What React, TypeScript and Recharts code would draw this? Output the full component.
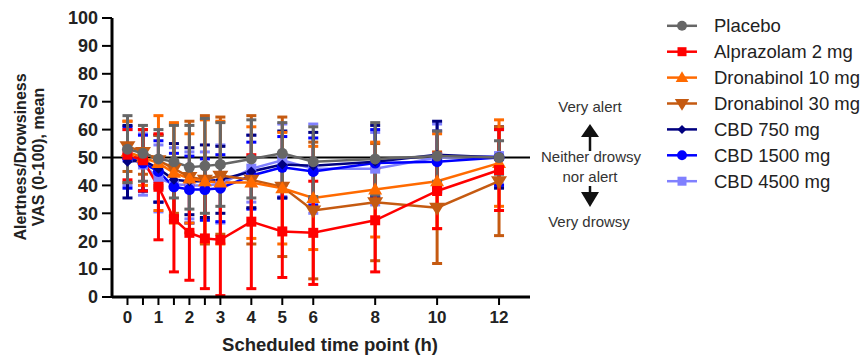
import React from 'react';
import { ComposedChart, Line, XAxis, YAxis, ReferenceLine, ErrorBar } from 'recharts';

const times = [0, 0.5, 1, 1.5, 2, 2.5, 3, 4, 5, 6, 8, 10, 12];
const yTicks = [0, 10, 20, 30, 40, 50, 60, 70, 80, 90, 100];

const placebo = [53, 51.5, 49.5, 48.5, 46.5, 47, 47.5, 49.5, 51.5, 48.5, 49.5, 50.5, 50];
const placeboErr = [12, 10, 10.5, 13, 15, 17, 15, 14, 11, 12.5, 13, 9, 6];
const alprazolam = [51, 49, 39.5, 28, 23, 21, 20.5, 27, 23.5, 23, 27.5, 38, 45.5];
const alprazolamErr = [9, 11, 19, 19, 17, 18, 20, 24, 16.5, 18.5, 18.5, 13.5, 14.5];
const dronabinol10 = [52, 50, 48, 44.5, 42.5, 41.5, 41, 41, 39, 35.5, 38.5, 41.5, 48];
const dronabinol10Err = [11, 10, 17, 18, 16, 22, 22, 20, 20, 18.5, 17, 17, 15.5];
const dronabinol30 = [54, 52, 49, 46, 43, 42, 43.5, 42, 39.5, 31, 34, 32, 41.5];
const dronabinol30Err = [9, 8, 9, 16, 20, 23, 21, 23, 25, 24.5, 21, 20, 19.5];
const cbd750 = [48.5, 49, 46, 42, 41.5, 41.5, 42, 45, 47.5, 47, 48.5, 51, 50];
const cbd750Err = [13, 11, 12, 13, 12, 13, 12, 13, 12, 12, 13, 12, 11];
const cbd1500 = [50, 48, 45, 39.5, 38.5, 38.5, 39, 43.5, 46.5, 45, 48, 48.5, 50];
const cbd1500Err = [11, 10, 11, 12, 12, 11, 12, 12, 11, 12, 12, 11, 10];
const cbd4500 = [50, 47.5, 42.5, 40.5, 40, 40, 40.5, 46, 49, 46, 46, 50, 50.5];
const cbd4500Err = [10, 11, 12, 13, 12, 12, 14, 12, 13, 16, 13, 12, 10];

const seriesNames = ['Placebo', 'Alprazolam 2 mg', 'Dronabinol 10 mg', 'Dronabinol 30 mg', 'CBD 750 mg', 'CBD 1500 mg', 'CBD 4500 mg'];
const seriesKeys = ['placebo', 'alprazolam', 'dronabinol10', 'dronabinol30', 'cbd750', 'cbd1500', 'cbd4500'];
const seriesValues = [placebo, alprazolam, dronabinol10, dronabinol30, cbd750, cbd1500, cbd4500];
const seriesErrs = [placeboErr, alprazolamErr, dronabinol10Err, dronabinol30Err, cbd750Err, cbd1500Err, cbd4500Err];
const seriesColors = ['#666666', '#FF0000', '#FF6A00', '#C55A11', '#000080', '#0000FF', '#8080FF'];
const seriesShapes = ['circle', 'square', 'triUp', 'triDown', 'diamond', 'circle', 'square'];

const data = times.map((t, i) => {
  const row: any = { t };
  seriesKeys.forEach((k, s) => {
    row[k] = seriesValues[s][i];
    row[k + 'Err'] = seriesErrs[s][i];
  });
  return row;
});

const FONT = '"Liberation Sans", Arial, Helvetica, sans-serif';

function Marker({ shape, cx, cy, color, scale = 1 }: any) {
  const s = scale;
  if (shape === 'circle') return <circle cx={cx} cy={cy} r={5.5 * s} fill={color} />;
  if (shape === 'square') return <rect x={cx - 5 * s} y={cy - 5 * s} width={10 * s} height={10 * s} fill={color} />;
  if (shape === 'triUp')
    return <polygon points={`${cx},${cy - 7 * s} ${cx - 7 * s},${cy + 5 * s} ${cx + 7 * s},${cy + 5 * s}`} fill={color} />;
  if (shape === 'triDown')
    return <polygon points={`${cx - 8 * s},${cy - 5 * s} ${cx + 8 * s},${cy - 5 * s} ${cx},${cy + 8 * s}`} fill={color} />;
  return <polygon points={`${cx},${cy - 5 * s} ${cx + 5 * s},${cy} ${cx},${cy + 5 * s} ${cx - 5 * s},${cy}`} fill={color} />;
}

const drawOrder = [6, 5, 4, 3, 2, 1, 0];

export default function App() {
  return (
    <div style={{ position: 'absolute', left: 0, top: 0, width: 866, height: 358, background: '#fff', fontFamily: FONT }}>
      <ComposedChart width={866} height={358} data={data} margin={{ top: 18, right: 336, bottom: 21, left: 52 }}>
        <XAxis
          dataKey="t"
          type="number"
          domain={[-0.5, 13]}
          ticks={times}
          interval={0}
          allowDataOverflow
          tickFormatter={(v: number) => (Number.isInteger(v) ? String(v) : '')}
          height={40}
          tickSize={8}
          tickMargin={6}
          axisLine={{ stroke: '#000', strokeWidth: 3 }}
          tickLine={{ stroke: '#000', strokeWidth: 2 }}
          tick={{ fill: '#222', fontSize: 17, fontWeight: 'bold', fontFamily: FONT }}
        />
        <YAxis
          type="number"
          domain={[0, 100]}
          ticks={yTicks}
          interval={0}
          width={60}
          tickSize={10}
          tickMargin={4}
          axisLine={{ stroke: '#000', strokeWidth: 3 }}
          tickLine={{ stroke: '#000', strokeWidth: 2 }}
          tick={{ fill: '#222', fontSize: 18, fontWeight: 'bold', fontFamily: FONT }}
        />
        <ReferenceLine y={50} stroke="#000" strokeWidth={2} />
        {drawOrder.map((s) => (
          <Line
            key={seriesKeys[s]}
            dataKey={seriesKeys[s]}
            type="linear"
            stroke={seriesColors[s]}
            strokeWidth={2.5}
            isAnimationActive={false}
            dot={(p: any) => (
              <Marker key={`${seriesKeys[s]}-${p.index}`} shape={seriesShapes[s]} cx={p.cx} cy={p.cy} color={seriesColors[s]} />
            )}
            activeDot={false}
          >
            <ErrorBar
              dataKey={seriesKeys[s] + 'Err'}
              direction="y"
              width={5}
              strokeWidth={3}
              stroke={seriesColors[s]}
              isAnimationActive={false}
            />
          </Line>
        ))}
      </ComposedChart>
      <svg width={866} height={358} style={{ position: 'absolute', left: 0, top: 0, pointerEvents: 'none' }}>
        <text
          transform="translate(35,157) rotate(-90)"
          textAnchor="middle"
          fontFamily={FONT}
          fontWeight="bold"
          fontSize={16}
          fill="#222"
        >
          <tspan x={0} dy={-9}>Alertness/Drowsiness</tspan>
          <tspan x={0} dy={18}>VAS (0-100), mean</tspan>
        </text>
        <text x={330} y={351} textAnchor="middle" fontFamily={FONT} fontWeight="bold" fontSize={18.5} fill="#222">
          Scheduled time point (h)
        </text>
        <text x={590} y={112} textAnchor="middle" fontFamily={FONT} fontSize={15} fill="#333">Very alert</text>
        <polygon points="590,124 581,137 599,137" fill="#111" />
        <line x1={590} y1={136} x2={590} y2={151} stroke="#111" strokeWidth={2.5} />
        <text x={591} y={162} textAnchor="middle" fontFamily={FONT} fontSize={15} fill="#333">Neither drowsy</text>
        <text x={590} y={182} textAnchor="middle" fontFamily={FONT} fontSize={15} fill="#333">nor alert</text>
        <line x1={590} y1={186} x2={590} y2={194} stroke="#111" strokeWidth={2.5} />
        <polygon points="581,192 599,192 590,207" fill="#111" />
        <text x={589} y={227} textAnchor="middle" fontFamily={FONT} fontSize={15} fill="#333">Very drowsy</text>
        {seriesNames.map((name, i) => {
          const y = 25.8 + i * 25.9;
          return (
            <g key={name}>
              <line x1={667} y1={y} x2={697} y2={y} stroke={seriesColors[i]} strokeWidth={2.5} />
              <Marker shape={seriesShapes[i]} cx={682} cy={y} color={seriesColors[i]} scale={0.9} />
              <text x={714} y={y} dy="0.35em" fontFamily={FONT} fontSize={18.5} fill="#222">{name}</text>
            </g>
          );
        })}
      </svg>
    </div>
  );
}
